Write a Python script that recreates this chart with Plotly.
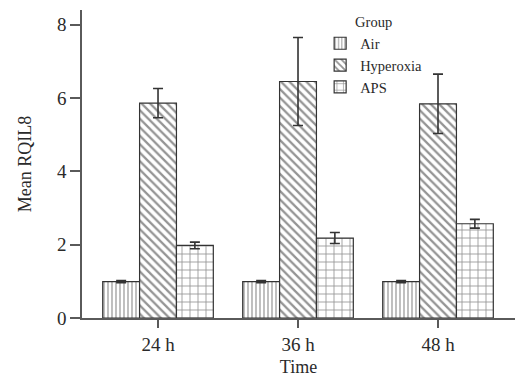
import plotly.graph_objects as go

times = ["24 h", "36 h", "48 h"]
groups = ["Air", "Hyperoxia", "APS"]
air = [0.99, 0.99, 0.99]
air_err = [0.03, 0.03, 0.03]
hyper = [5.86, 6.45, 5.84]
hyper_err = [0.40, 1.20, 0.81]
aps = [1.98, 2.18, 2.57]
aps_err = [0.09, 0.15, 0.12]

y_ticks = [0, 2, 4, 6, 8]

FONT = "Liberation Serif"
TXT = "#2a2a2a"
AX = "#5a5a5a"

series = [
    (groups[0], air, air_err, "|", 4, 0.3),
    (groups[1], hyper, hyper_err, "\\", 6, 0.38),
    (groups[2], aps, aps_err, "+", 8, 0.2),
]

fig = go.Figure()
for name, vals, errs, shape, size, sol in series:
    fig.add_trace(go.Bar(
        name=name, x=times, y=vals,
        marker=dict(
            color="white",
            line=dict(color="#333333", width=1.2),
            pattern=dict(shape=shape, size=size, solidity=sol,
                         fgcolor="#2a2a2a", bgcolor="white", fillmode="overlay"),
        ),
        error_y=dict(type="data", array=errs, visible=True,
                     color="#333333", thickness=1.6, width=5),
    ))

fig.update_layout(
    width=515, height=378,
    margin=dict(l=82, r=0, t=10, b=60),
    paper_bgcolor="white", plot_bgcolor="white",
    barmode="group", bargap=0.21, bargroupgap=0,
    font=dict(family=FONT, color=TXT, size=19),
    showlegend=True,
    legend=dict(
        x=0.55, y=1.005, xanchor="left", yanchor="top",
        bgcolor="rgba(0,0,0,0)",
        font=dict(family=FONT, size=14.5, color=TXT),
        title=dict(text="Group", side="top center", font=dict(family=FONT, size=14.5, color=TXT)),
        tracegroupgap=0, itemwidth=30,
    ),
    xaxis=dict(
        range=[-0.543, 2.55], showgrid=False, zeroline=False, automargin=False,
        showline=True, linecolor=AX, linewidth=1.5,
        ticks="outside", ticklen=8, tickwidth=1.5, tickcolor=AX,
        tickfont=dict(family=FONT, size=19, color=TXT),
        title=dict(text="Time", font=dict(family=FONT, size=18, color=TXT), standoff=7),
    ),
    yaxis=dict(
        range=[0, 8.4], tickvals=y_ticks, showgrid=False, zeroline=False, automargin=False,
        showline=True, linecolor=AX, linewidth=1.5,
        ticks="outside", ticklen=10, tickwidth=1.5, tickcolor=AX,
        tickfont=dict(family=FONT, size=19, color=TXT),
        title=dict(text="Mean RQIL8", font=dict(family=FONT, size=18, color=TXT), standoff=21),
    ),
)

fig.write_html("out.html", config={"displayModeBar": False},
               post_script="document.body.style.margin='0';document.body.style.overflow='hidden';")
